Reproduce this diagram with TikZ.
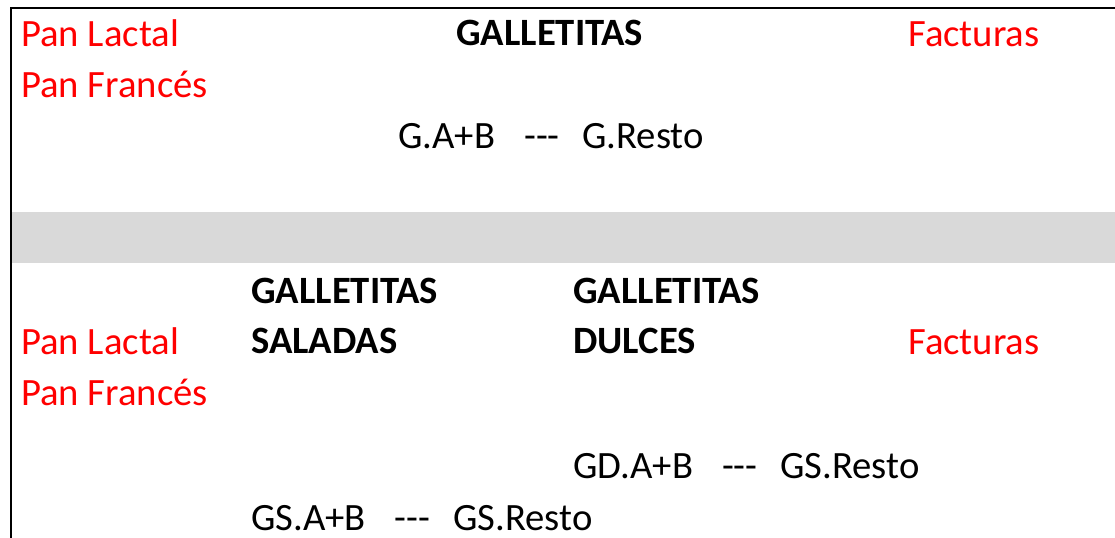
\documentclass[tikz,border=0pt]{standalone}
\usepackage{fontspec}
\setmainfont{Carlito}
\definecolor{bandgray}{HTML}{D9D9D9}
\definecolor{txtred}{HTML}{FF0000}
\newcommand{\sepdash}{\ \ \ \hspace{2pt}-{}-{}-\ \ \hspace{4pt}}
\begin{document}
\begin{tikzpicture}[x=0.75pt,y=-0.75pt,
  lbl/.style={anchor=base west,inner sep=0pt,font=\fontsize{29}{34}\selectfont},
  red/.style={lbl,text=txtred},
  hdr/.style={lbl,font=\fontsize{29}{34}\selectfont\bfseries},
  frame/.style={line width=2pt,line cap=rect}]
\useasboundingbox (0,0) rectangle (1115,538);
% frame and band
\fill[bandgray] (12,212) rectangle (1115,263);
\coordinate (tl) at (11,8);
\coordinate (tr) at (1115,8);
\coordinate (bl) at (11,538);
\draw[frame] (tr) -- (tl) -- (bl);
% top section
\node[red] (pl1) at (21,47) {Pan Lactal};
\node[red] (pf1) at (21,98) {Pan Francés};
\node[hdr] (g1) at (456,46) {GALLETITAS};
\node[red] (f1) at (908,47) {Facturas};
\node[lbl] (r1) at (398,149) {G.A+B\sepdash G.Resto};
% bottom section
\node[hdr] (gs) at (251,304) {GALLETITAS};
\node[hdr] (gd) at (573,304) {GALLETITAS};
\node[red] (pl2) at (21,355) {Pan Lactal};
\node[hdr] (sal) at (251,354) {SALADAS};
\node[hdr] (dul) at (573,354) {DULCES};
\node[red] (f2) at (908,355) {Facturas};
\node[red] (pf2) at (21,406) {Pan Francés};
\node[lbl] (r2) at (573,479) {GD.A+B\sepdash GS.Resto};
\node[lbl] (r3) at (251,530) {GS.A+B\sepdash GS.Resto};
\end{tikzpicture}
\end{document}
